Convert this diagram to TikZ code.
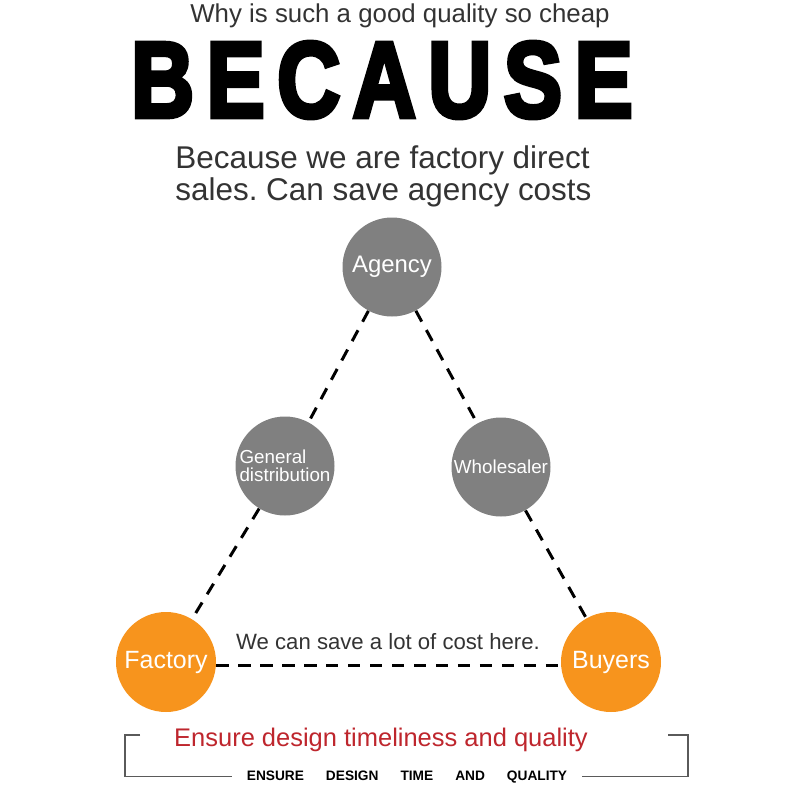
\documentclass[tikz,border=0pt]{standalone}
\usepackage{fontspec}
\setmainfont{Liberation Sans}
\newfontfamily\heavyfont{Liberation Sans Bold}[FakeBold=4.5, LetterSpace=14]
\usepackage{graphicx}
\usepackage{xcolor}
\usetikzlibrary{positioning}
\definecolor{darktext}{RGB}{51,51,51}
\definecolor{ballgray}{RGB}{128,128,128}
\definecolor{ballorange}{RGB}{247,148,29}
\definecolor{ensurered}{RGB}{190,38,45}
\definecolor{bracketgray}{RGB}{90,90,90}
\frenchspacing

\begin{document}
\begin{tikzpicture}[
    x=0.2mm, y=-0.2mm,
    grayball/.style={circle, fill=ballgray, minimum size=19.8mm, inner sep=0pt,
        text=white, font=\fontsize{10.7}{10.4}\selectfont, align=left},
    orangeball/.style={circle, fill=ballorange, minimum size=20mm, inner sep=0pt,
        text=white, font=\fontsize{14.2}{16}\selectfont},
    link/.style={line width=1.7pt, dash pattern=on 7pt off 5.5pt},
    bracket/.style={bracketgray, line width=1pt}
]
    \useasboundingbox (0,0) rectangle (800,800);
    % heading
    \node[anchor=base, text=darktext, font=\fontsize{14.7}{17}\selectfont] (why) at (400,22) {Why is such a good quality so cheap};
    \node[anchor=base, inner sep=0pt] (because) at (382,117) {\resizebox{100.4mm}{15mm}{\heavyfont BECAUSE}};
    \node[anchor=north west, inner sep=0pt, align=left, text=darktext,
        font=\fontsize{17.9}{18.3}\selectfont] (reason) at (175,145) {Because we are factory direct\\sales. Can save agency costs};
    % triangle
    \node[grayball, font=\fontsize{13.6}{15}\selectfont] (agency) at (392,267) {Agency};
    \node[grayball] (general) at (285,466) {General\\distribution};
    \node[grayball] (whole) at (501,467) {Wholesaler};
    \node[orangeball] (factory) at (166,662) {Factory};
    \node[orangeball] (buyers) at (611,662) {Buyers};
    \draw[link] (agency) -- (general);
    \draw[link] (agency) -- (whole);
    \draw[link] (general) -- (factory);
    \draw[link] (whole) -- (buyers);
    \draw[link] ([yshift=-0.6mm]factory.east) -- ([yshift=-0.6mm]buyers.west);
    \node[anchor=base, text=darktext, font=\fontsize{12.6}{14}\selectfont] (save) at (388,649) {We can save a lot of cost here.};
    % footer
    \node[anchor=base, text=ensurered, font=\fontsize{14.5}{16}\selectfont] (ensure) at (381,746) {Ensure design timeliness and quality};
    \node[anchor=base, inner sep=0pt, font=\fontsize{7.8}{9}\selectfont\bfseries] (tag) at (407,780)
        {ENSURE\hspace{4.4mm}DESIGN\hspace{4.4mm}TIME\hspace{4.4mm}AND\hspace{4.4mm}QUALITY};
    \draw[bracket] (140,735) -- (125,735) |- ([xshift=-3mm]tag.west);
    \draw[bracket] (668,735) -- (688,735) |- ([xshift=3mm]tag.east);
\end{tikzpicture}
\end{document}
